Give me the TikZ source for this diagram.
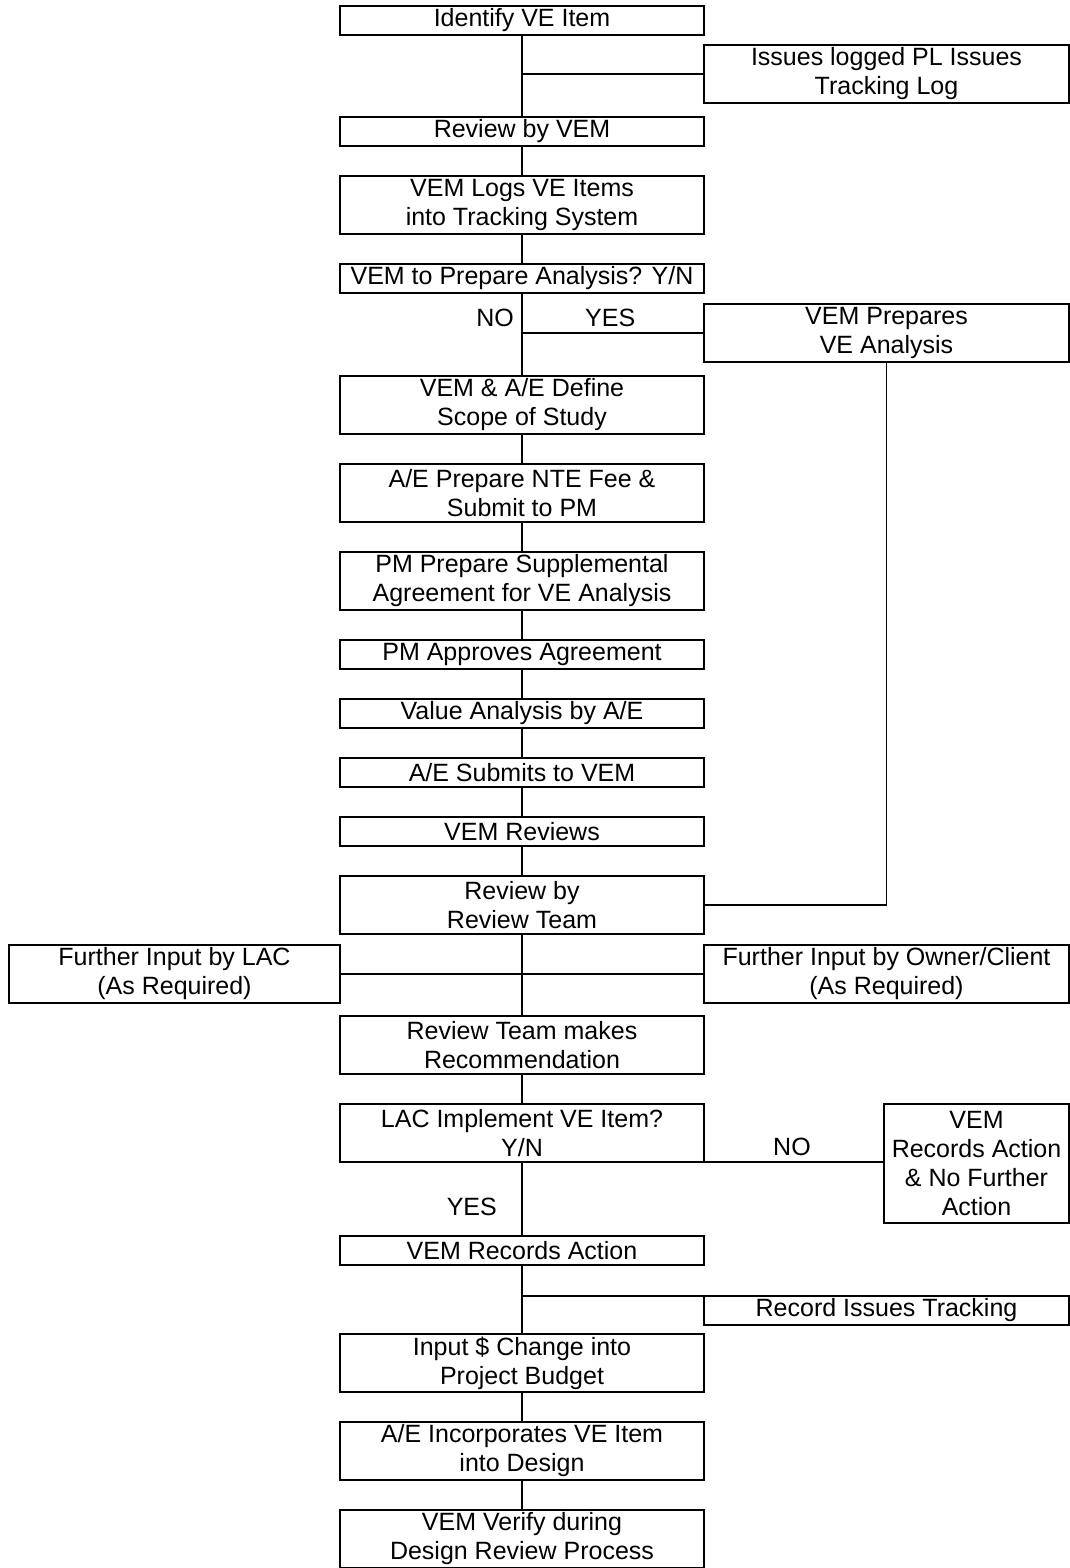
\documentclass[tikz,border=0pt]{standalone}
\usepackage{fontspec}
\setmainfont{Liberation Sans}
\usetikzlibrary{positioning}

\begin{document}
\begin{tikzpicture}[x=1pt,y=1pt,
    every node/.style={font=\fontsize{25}{29}\selectfont,align=center,inner sep=0pt},
    stepbox/.style={draw,line width=1.3pt,outer sep=0pt,minimum width=364pt,minimum height=29pt},
    tallbox/.style={stepbox,minimum height=58pt},
    sidebox/.style={tallbox,minimum width=365pt},
    conn/.style={line width=1.1pt},
    lbl/.style={draw=none}]
  \useasboundingbox (0,0) rectangle (1069,1568);
  % main column
  \node[stepbox] (identify) at (522,1547.5) {Identify VE Item};
  \node[stepbox,below=82pt of identify]   (review)    {Review by VEM};
  \node[tallbox,below=30pt of review]     (logs)      {VEM Logs VE Items\\into Tracking System};
  \node[stepbox,below=30pt of logs]       (ask)       {VEM to Prepare Analysis? Y/N};
  \node[tallbox,below=83pt of ask]        (scope)     {VEM \& A/E Define\\Scope of Study};
  \node[tallbox,below=30pt of scope]      (nte)       {A/E Prepare NTE Fee \&\\Submit to PM};
  \node[tallbox,below=30pt of nte]        (supp)      {PM Prepare Supplemental\\Agreement for VE Analysis};
  \node[stepbox,below=30pt of supp]       (approve)   {PM Approves Agreement};
  \node[stepbox,below=30pt of approve]    (value)     {Value Analysis by A/E};
  \node[stepbox,below=30pt of value]      (submit)    {A/E Submits to VEM};
  \node[stepbox,below=30pt of submit]     (vemrev)    {VEM Reviews};
  \node[tallbox,below=30pt of vemrev]     (teamrev)   {Review by\\Review Team};
  \node[tallbox,below=82pt of teamrev]    (recommend) {Review Team makes\\Recommendation};
  \node[tallbox,below=30pt of recommend]  (implement) {LAC Implement VE Item?\\Y/N};
  \node[stepbox,below=74pt of implement]  (recact)    {VEM Records Action};
  \node[tallbox,below=69pt of recact]     (budget)    {Input \$ Change into\\Project Budget};
  \node[tallbox,below=30pt of budget]     (design)    {A/E Incorporates VE Item\\into Design};
  \node[tallbox,below=30pt of design]     (verify)    {VEM Verify during\\Design Review Process};
  % side boxes
  \node[sidebox,below right=10pt and 0pt of identify] (issues)  {Issues logged PL Issues\\Tracking Log};
  \node[sidebox,below right=11pt and 0pt of ask]      (vemprep) {VEM Prepares\\VE Analysis};
  \node[tallbox,minimum width=331pt,below left=11pt and 0pt of teamrev] (lac) {Further Input by LAC\\(As Required)};
  \node[sidebox,below right=11pt and 0pt of teamrev]  (owner)   {Further Input by Owner/Client\\(As Required)};
  \node[stepbox,minimum width=185pt,minimum height=119pt,below right=0pt and 180pt of implement.north east] (norec) {VEM\\Records Action\\\& No Further\\Action};
  \node[stepbox,minimum width=365pt,below right=31pt and 0pt of recact] (track) {Record Issues Tracking};
  % labels
  \node[lbl,below left=16pt and 8pt of ask.south]          (askno)  {NO};
  \node[lbl,below right=16pt and 63pt of ask.south]        (askyes) {YES};
  \node[lbl,above right=6pt and 69pt of implement.south east] (impno)  {NO};
  \node[lbl,below left=36pt and 25pt of implement.south]  (impyes) {YES};
  % connectors
  \foreach \a/\b in {identify/review,review/logs,logs/ask,ask/scope,scope/nte,nte/supp,
      supp/approve,approve/value,value/submit,submit/vemrev,vemrev/teamrev,teamrev/recommend,
      recommend/implement,implement/recact,recact/budget,budget/design,design/verify}
    \draw[conn] (\a) -- (\b);
  \draw[conn] (identify.south |- issues.west) -- (issues.west);
  \draw[conn] (ask.south |- vemprep.west) -- (vemprep.west);
  \draw[conn] (vemprep.south) |- (teamrev.east);
  \draw[conn] (lac.east) -- (owner.west);
  \draw[conn] (implement.south east) -- (implement.south east -| norec.west);
  \draw[conn] (recact.south |- track.north west) -- (track.north west);
\end{tikzpicture}
\end{document}
